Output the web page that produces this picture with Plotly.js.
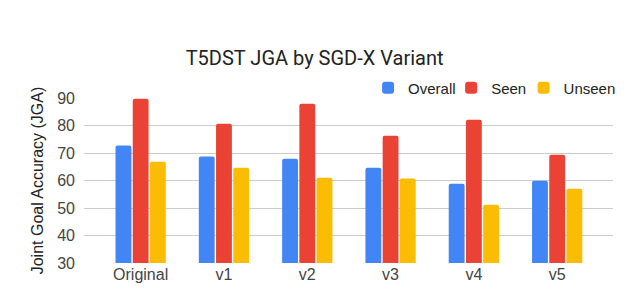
<!DOCTYPE html>
<html><head><meta charset="utf-8">
<script src="https://cdn.plot.ly/plotly-3.0.1.min.js"></script>
<style>html,body{margin:0;padding:0;background:#fff}</style>
</head><body>
<div id="chart" style="width:633px;height:306px"></div>
<script>
const categories = ["Original", "v1", "v2", "v3", "v4", "v5"];
const overall = [72.7, 68.7, 67.9, 64.6, 58.8, 59.9];
const seen = [89.7, 80.6, 87.9, 76.3, 82.1, 69.4];
const unseen = [66.8, 64.6, 61.0, 60.7, 51.2, 57.0];
const yTicks = [30, 40, 50, 60, 70, 80, 90];

const titleFont = "Roboto, Arial, sans-serif";
const tickFont = "'Liberation Sans', Arial, sans-serif";
const series = [
  {name: "Overall", y: overall, color: "#4285F4", legend: "legend", lx: 0.537},
  {name: "Seen", y: seen, color: "#EA4335", legend: "legend2", lx: 0.694},
  {name: "Unseen", y: unseen, color: "#FBBC04", legend: "legend3", lx: 0.831}
];
const traces = series.map(s => ({type: "bar", name: s.name, x: categories, y: s.y, marker: {color: s.color}, legend: s.legend}));

const legendBase = {orientation: "h", xanchor: "left", y: 1.06, yanchor: "middle", font: {family: tickFont, size: 15, color: "#222"}, itemwidth: 30, bgcolor: "rgba(0,0,0,0)", borderwidth: 0};

const layout = {
  width: 633, height: 306,
  margin: {l: 84, r: 16, t: 98, b: 43},
  paper_bgcolor: "#fff", plot_bgcolor: "#fff",
  font: {family: tickFont, size: 16, color: "#444"},
  title: {text: "T5DST JGA by SGD-X Variant", font: {family: titleFont, size: 20, color: "#222"}, x: 0.497, xanchor: "center", y: 0.81, yanchor: "middle"},
  barmode: "group", bargap: 0.38, bargroupgap: 0.08, barcornerradius: 2,
  xaxis: {range: [-0.68, 5.67], showgrid: false, zeroline: false, showline: false, ticks: "", tickfont: {family: tickFont, size: 16, color: "#444"}},
  yaxis: {range: [30, 90], tickvals: yTicks, showgrid: true, gridcolor: "#cccccc", gridwidth: 1, zeroline: false, showline: false, ticks: "", ticklabelstandoff: 8,
    tickfont: {family: tickFont, size: 16, color: "#444"},
    title: {text: "Joint Goal Accuracy (JGA)", font: {family: tickFont, size: 16, color: "#222"}, standoff: 9}},
  legend: Object.assign({}, legendBase, {x: series[0].lx}),
  legend2: Object.assign({}, legendBase, {x: series[1].lx}),
  legend3: Object.assign({}, legendBase, {x: series[2].lx}),
  showlegend: true
};
Plotly.newPlot("chart", traces, layout, {displayModeBar: false, staticPlot: true});
</script>
</body></html>
